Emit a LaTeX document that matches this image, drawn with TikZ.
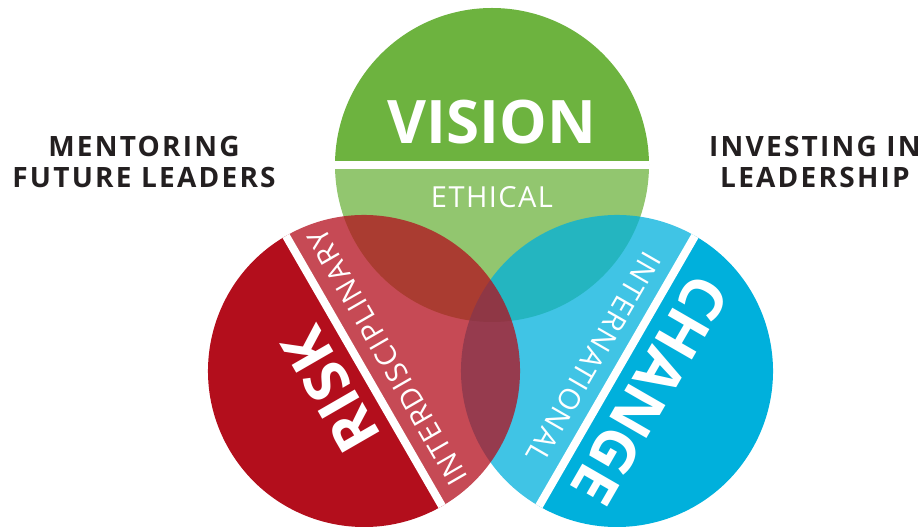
\documentclass[tikz,border=0pt]{standalone}
\usepackage{fontspec}
\setmainfont{Open Sans}
\newfontfamily\spacedfont{Open Sans}[LetterSpace=5]
\newfontfamily\sidefont{Open Sans}[LetterSpace=8]
\usepackage{xcolor}
\usetikzlibrary{calc}
\definecolor{visiongreen}{HTML}{6DB33F}
\definecolor{riskred}{HTML}{B30E1C}
\definecolor{changeblue}{HTML}{00B0DC}
\definecolor{textblack}{HTML}{231F20}

\begin{document}
\begin{tikzpicture}[x=1pt,y=1pt,
	bigword/.style={text=white,inner sep=0pt,font=\bfseries\fontsize{60}{60}\selectfont},
	smallword/.style={text=white,inner sep=0pt,font=\spacedfont\fontsize{29}{29}\selectfont},
	sideword/.style={text=textblack,inner sep=0pt,align=center,font=\sidefont\bfseries\fontsize{28}{31}\selectfont},
	light/.style={fill opacity=0.75},
	gap/.style={white,line width=8pt}]
\useasboundingbox (0,0) rectangle (922,527);

	% (VISION)
	\coordinate (vision) at (492,362);
\fill[visiongreen] (vision) ++(0:157) arc (0:180:157) -- cycle;
\fill[visiongreen,light] (vision) ++(180:157) arc (180:360:157) -- cycle;
	\draw[gap] (vision) ++(180:157) -- ++(0:314);

	% (CHANGE)
	\coordinate (change) at (617,156);
\fill[changeblue] (change) ++(240:156) arc (240:420:156) -- cycle;
\fill[changeblue,light] (change) ++(60:156) arc (60:240:156) -- cycle;
	\draw[gap] (change) ++(60:156) -- ++(240:312);

	% (RISK)
	\coordinate (risk) at (364,156);
\fill[riskred] (risk) ++(120:156) arc (120:300:156) -- cycle;
\fill[riskred,light] (risk) ++(-60:156) arc (-60:120:156) -- cycle;
	\draw[gap] (risk) ++(120:156) -- ++(-60:312);

	\node[bigword] (visionword) at ($(vision)+(90:43)$) {VISION};
	\node[smallword] (ethical) at ($(vision)+(270:32)$) {ETHICAL};
	\node[bigword,rotate=120] (riskword) at ($(risk)+(210:38)$) {RISK};
	\node[smallword,rotate=120] (interdisc) at ($(risk)+(30:27)$) {INTERDISCIPLINARY};
	\node[bigword,rotate=-120] (changeword) at ($(change)+(-30:38)$) {CHANGE};
	\node[smallword,rotate=-120] (internat) at ($(change)+(150:27)$) {INTERNATIONAL};

	\node[sideword] (mentoring) at (144,365) {MENTORING\\FUTURE LEADERS};
	\node[sideword] (investing) at (815,365) {INVESTING IN\\LEADERSHIP};

\end{tikzpicture}
\end{document}
